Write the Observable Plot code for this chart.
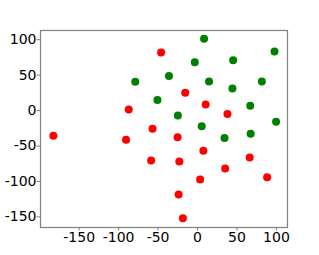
<!DOCTYPE html>
<html><head><meta charset="utf-8">
<script src="https://cdn.jsdelivr.net/npm/d3@7"></script>
<script src="https://cdn.jsdelivr.net/npm/@observablehq/plot@0.6"></script>
<style>body{margin:0;background:#fff}</style>
</head><body><div id="chart"></div>
<script>
const redX = [-182.7,-90.6,-87.2,-57,-46.2,-58.8,-25.3,-15.6,10.3,7.4,-23.1,37.9,66.1,35,3.3,88.2,-24,-18.6];
const redY = [-35.5,-41.2,1.4,-25.6,82,-70.5,-37.8,25.1,8.5,-56.8,-71.9,-4.7,-66.2,-81.8,-97.4,-94.2,-118.3,-152];
const greenX = [-78.9,-50.8,8.3,97.5,-3.5,45.1,-36.2,14.6,81.5,44.2,66.8,-24.9,99.5,5.3,34.2,67.3];
const greenY = [40.8,14.8,101.4,83.4,68.2,71,48.9,41.2,41.2,31.3,6.7,-7.1,-15.6,-22.2,-38.8,-32.7];
const xTicks = [-150,-100,-50,0,50,100];
const yTicks = [-150,-100,-50,0,50,100];

const red = redX.map((x,i)=>({x, y: redY[i]}));
const green = greenX.map((x,i)=>({x, y: greenY[i]}));
const fmt = d => String(d);

const chart = Plot.plot({
  width: 319, height: 255,
  marginLeft: 40, marginRight: 32, marginTop: 30, marginBottom: 28,
  style: {fontFamily: "DejaVu Sans", fontSize: "14px", color: "black", background: "white"},
  x: {domain: [-199, 114], label: null},
  y: {domain: [-165, 113], label: null},
  marks: [
    Plot.frame({stroke: "#808080", strokeWidth: 1.2}),
    Plot.axisX({ticks: xTicks, tickFormat: fmt, tickSize: 3.5, tickPadding: 1.5, stroke: "#808080", fill: "black", label: null}),
    Plot.axisY({ticks: yTicks, tickFormat: fmt, tickSize: 3.5, tickPadding: 0.5, stroke: "#808080", fill: "black", label: null}),
    Plot.dot(red, {x: "x", y: "y", r: 4, fill: "red"}),
    Plot.dot(green, {x: "x", y: "y", r: 4, fill: "green"})
  ]
});
document.getElementById("chart").appendChild(chart);
</script></body></html>
